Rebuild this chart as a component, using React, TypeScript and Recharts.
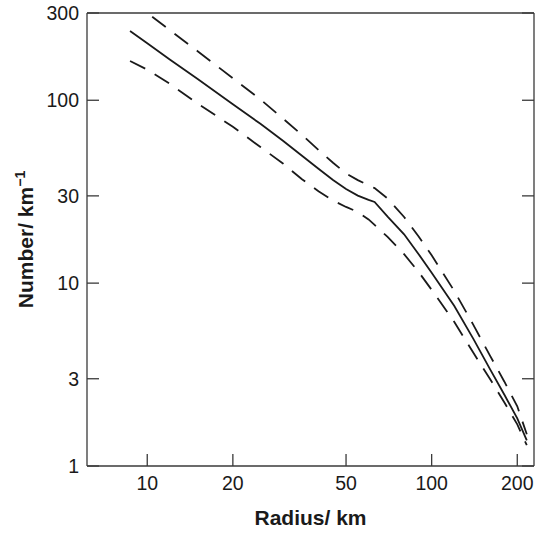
import { LineChart, Line, XAxis, YAxis, Label } from "recharts";

// radius in km, number per km (log-log)
const radius = [8.7, 10, 12, 15, 20, 25, 30, 35, 40, 45, 50, 55, 60, 63, 70, 80, 90, 100, 120, 140, 160, 180, 200, 216];
const central = [239, 205, 167, 131, 95.1, 74.3, 60.1, 49.7, 42.2, 36.6, 32.7, 30.1, 28.5, 27.8, 23.1, 18.5, 14.4, 11.4, 7.52, 4.97, 3.41, 2.46, 1.82, 1.38];
const upper = [355, 300, 242, 186, 132, 101, 79.4, 64.7, 53.5, 45.5, 39.8, 36.6, 34.2, 33.1, 29.0, 23.0, 18.0, 14.2, 9.08, 5.93, 4.04, 2.9, 2.12, 1.49];
const lower = [164, 147, 123, 96.2, 71.6, 55.5, 45.1, 37.0, 31.8, 28.3, 26.1, 24.5, 22.3, 20.8, 17.9, 14.4, 11.5, 9.19, 6.15, 4.17, 3.01, 2.23, 1.69, 1.3];

const xTicks = [10, 20, 50, 100, 200];
const yTicks = [1, 3, 10, 30, 100, 300];
const xDomain = [6.14, 229];
const yDomain = [1, 300];

const data = radius.map((r, i) => ({ r, mid: central[i], hi: upper[i], lo: lower[i] }));

const FONT = "Liberation Sans, Arial, sans-serif";
const INK = "#1a1a1a";
const AXIS = "#3a3a3a";
const tickStyle = { fill: INK, fontSize: 19.5, fontFamily: FONT };
const noLabel = () => <g />;

const XTitle = ({ viewBox }: any) => (
  <text
    x={viewBox.x + viewBox.width / 2}
    y={viewBox.y + 59}
    textAnchor="middle"
    fill={INK}
    fontSize={21}
    fontWeight="bold"
    fontFamily={FONT}
  >
    Radius/ km
  </text>
);

const YTitle = ({ viewBox }: any) => {
  const cx = viewBox.x + 33;
  const cy = viewBox.y + viewBox.height / 2;
  return (
    <text
      x={cx}
      y={cy}
      transform={`rotate(-90, ${cx}, ${cy})`}
      textAnchor="middle"
      fill={INK}
      fontSize={21}
      fontWeight="bold"
      fontFamily={FONT}
    >
      Number/ km
      <tspan dy={-8} fontSize={14}>
        −1
      </tspan>
    </text>
  );
};

export default function App() {
  return (
    <div style={{ position: "absolute", left: 0, top: 0, background: "#fff" }}>
      <LineChart width={535} height={533} data={data} margin={{ top: 12, right: 0, bottom: 0, left: 0 }}>
        <XAxis
          dataKey="r"
          type="number"
          scale="log"
          domain={xDomain}
          allowDataOverflow
          ticks={xTicks}
          interval={0}
          height={67}
          tickSize={-12}
          tickMargin={22}
          tick={tickStyle}
          stroke={AXIS}
          strokeWidth={1.3}
        >
          <Label content={XTitle} />
        </XAxis>
        <XAxis
          xAxisId="top"
          orientation="top"
          type="number"
          scale="log"
          domain={xDomain}
          allowDataOverflow
          ticks={xTicks}
          interval={0}
          height={1}
          tickSize={-12}
          tick={noLabel}
          stroke={AXIS}
          strokeWidth={1.3}
        />
        <YAxis
          type="number"
          scale="log"
          domain={yDomain}
          allowDataOverflow
          ticks={yTicks}
          interval={0}
          width={87}
          tickSize={-12}
          tickMargin={20}
          tick={tickStyle}
          stroke={AXIS}
          strokeWidth={1.3}
        >
          <Label content={YTitle} />
        </YAxis>
        <YAxis
          yAxisId="right"
          orientation="right"
          type="number"
          scale="log"
          domain={yDomain}
          allowDataOverflow
          ticks={yTicks}
          interval={0}
          width={1}
          tickSize={-12}
          tick={noLabel}
          stroke={AXIS}
          strokeWidth={1.3}
        />
        <Line dataKey="hi" stroke={INK} strokeWidth={1.8} strokeDasharray="17 11" dot={false} isAnimationActive={false} />
        <Line dataKey="mid" stroke={INK} strokeWidth={1.8} dot={false} isAnimationActive={false} />
        <Line dataKey="lo" stroke={INK} strokeWidth={1.8} strokeDasharray="17 11" dot={false} isAnimationActive={false} />
      </LineChart>
    </div>
  );
}
